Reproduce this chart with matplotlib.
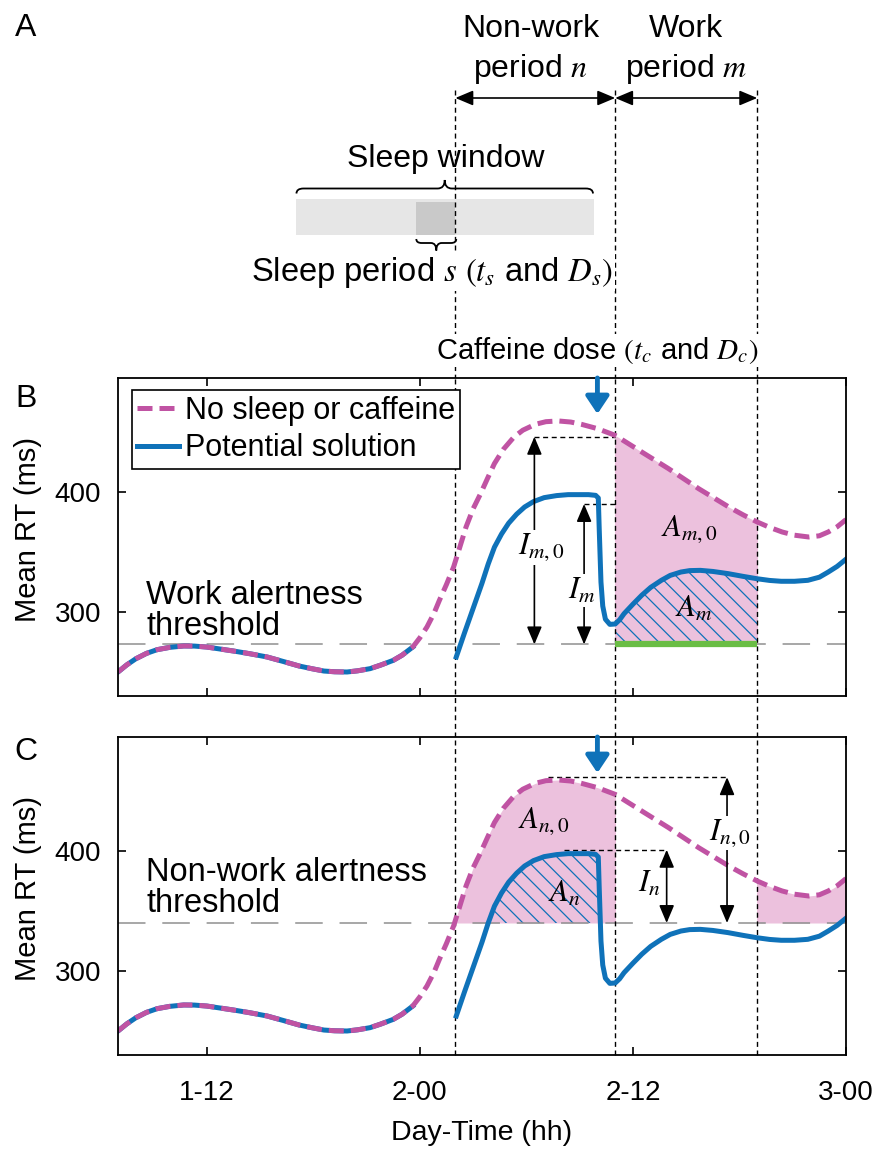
import matplotlib.pyplot as plt
from matplotlib.path import Path
from matplotlib.patches import PathPatch, Rectangle
import matplotlib.transforms as mtransforms

plt.rcParams['font.family'] = ['Liberation Sans', 'DejaVu Sans']
plt.rcParams['mathtext.fontset'] = 'stix'
plt.rcParams['hatch.linewidth'] = 0.9

# time in hours (1-12 = 36 h, 2-00 = 48 h, ...), mean RT in ms
pink_h = [31.0, 31.5, 32.0, 32.6, 33.2, 33.9, 34.7, 35.3, 36.0, 37.5, 38.4, 39.4,
          40.3, 41.2, 41.9, 42.6, 43.2, 43.9, 44.5, 45.2, 45.8, 46.5, 47.0, 47.6,
          48.0, 48.4, 48.8, 49.1, 49.5, 49.9, 50.25, 50.6, 51.0, 51.4, 51.8, 52.2,
          52.7, 53.3, 53.8, 54.5, 55.1, 55.8, 56.5, 57.1, 58.0, 59.0, 60.5, 62.0,
          63.7, 65.4, 66.2, 67.0, 67.7, 68.4, 69.1, 69.9, 70.5, 71.0, 71.5, 72.0]
pink_v = [250, 256, 261, 265.5, 268.6, 270.5, 271.7, 271.6, 270.8, 267.5, 265.3, 262.5,
          258.8, 255, 252.8, 250.8, 250.2, 250, 251, 252.8, 255.8, 259.7, 264, 270.8,
          278.5, 287.5, 299, 309.7, 323, 337.5, 354, 370.8, 386, 398, 411, 423.7,
          435.5, 445.8, 451.5, 456.4, 458.6, 459.2, 458.3, 456.4, 452.8, 447.2, 433.3, 419.5,
          402.8, 387.5, 381, 375, 370.5, 366.7, 364, 362.5, 363.5, 366.7, 371, 377]

# potential solution after waking up
blue_h = [50.05, 50.5, 51.0, 51.5, 51.85, 52.2, 52.6, 53.0, 53.45, 53.9, 54.4, 55.0,
          55.7, 56.35, 57.5, 57.9, 58.05, 58.1, 58.2, 58.3, 58.45, 58.7, 59.0, 59.25,
          59.5, 60.0, 60.5, 61.0, 61.6, 62.1, 62.7, 63.2, 63.8, 64.5, 65.35, 66.2,
          67.0, 67.7, 68.35, 69.1, 69.85, 70.5, 71.0, 71.5, 72.0]
blue_v = [262.5, 282, 303, 324, 340, 354, 365, 374, 381.5, 387.5, 392, 395.3,
          397, 397.8, 397.8, 397.2, 395, 370, 325, 305, 294, 289.7, 290, 293.5,
          298.6, 306.5, 314, 320.5, 326.4, 330.5, 333.3, 334.5, 334.7, 333.8, 332, 329.7,
          327.7, 326.3, 325.6, 325.6, 326.4, 329, 333.3, 338, 344]

sleep_window = (41.0, 57.8)
sleep_period = (47.8, 50.0)
nonwork = (50.0, 59.0)
work = (59.0, 67.0)
caffeine_t = 58.0
thr_work = 273
thr_nonwork = 340

im0_x, im0_top = 54.45, 446
im_x, im_top = 57.25, 390
in0_x, in0_top = 65.3, 461.5
in_x, in_top = 61.9, 401

xticks = [36, 48, 60, 72]
xticklabels = ['1-12', '2-00', '2-12', '3-00']
yticks = [300, 400]

PINK = '#c053a3'
PINK_FILL = '#ecc1dd'
BLUE = '#0f72b9'
GREEN = '#6abd45'
GRAY = '#8f8f8f'

W, H = 874, 1149
fig = plt.figure(figsize=(W / 100, H / 100), dpi=100)


def px_axes(x0, y0, x1, y1):
    return fig.add_axes([x0 / W, 1 - y1 / H, (x1 - x0) / W, (y1 - y0) / H])


ax_a = px_axes(118, 0, 846, 378)
ax_b = px_axes(118, 378, 846, 696)
ax_c = px_axes(118, 737, 846, 1055)

vdash = (0, (3.6, 2.6))
arrow_k = dict(arrowstyle='<|-|>,head_length=0.9,head_width=0.38', color='k',
               lw=1.2, shrinkA=0, shrinkB=0, mutation_scale=12)
white_box = dict(fc='white', ec='none', pad=1)


def brace(ax, x0, x1, y_end, y_flat, y_tip, r):
    xm = (x0 + x1) / 2
    verts = [(x0, y_end), (x0, y_flat), (x0 + r, y_flat),
             (xm - r, y_flat), (xm, y_flat), (xm, y_tip),
             (xm, y_flat), (xm + r, y_flat),
             (x1 - r, y_flat), (x1, y_flat), (x1, y_end)]
    codes = [Path.MOVETO, Path.CURVE3, Path.CURVE3,
             Path.LINETO, Path.CURVE3, Path.CURVE3,
             Path.CURVE3, Path.CURVE3,
             Path.LINETO, Path.CURVE3, Path.CURVE3]
    ax.add_patch(PathPatch(Path(verts, codes), fill=False, lw=1.3, color='k'))


# ---------- panel A (schematic, y in pixels from top) ----------
ax_a.set_xlim(31, 72)
ax_a.set_ylim(378, 0)
ax_a.axis('off')

ax_a.add_patch(Rectangle((sleep_window[0], 199), sleep_window[1] - sleep_window[0], 36,
                         fc='#e6e6e6', ec='none'))
ax_a.add_patch(Rectangle((sleep_period[0], 201.5), sleep_period[1] - sleep_period[0], 33.5,
                         fc='#c9c9c9', ec='none'))
brace(ax_a, sleep_window[0] + 0.05, sleep_window[1] - 0.05, 193.5, 188.5, 180, 0.4)
brace(ax_a, sleep_period[0], sleep_period[1] + 0.05, 239, 243, 250.5, 0.3)

for t in (nonwork[0], work[0], work[1]):
    ax_a.plot([t, t], [90, 378], color='k', lw=1.0, ls=vdash, zorder=1)

ax_a.annotate('', xy=(nonwork[0], 98), xytext=(nonwork[1], 98), arrowprops=arrow_k)
ax_a.annotate('', xy=(work[0], 98), xytext=(work[1], 98), arrowprops=arrow_k)

mid_n = sum(nonwork) / 2 - 0.25
mid_m = sum(work) / 2
ax_a.text(mid_n, 37, 'Non-work', ha='center', va='baseline', fontsize=23)
ax_a.text(mid_n, 77, 'period $n$', ha='center', va='baseline', fontsize=23)
ax_a.text(mid_m, 37, 'Work', ha='center', va='baseline', fontsize=23)
ax_a.text(mid_m, 77, 'period $m$', ha='center', va='baseline', fontsize=23)
ax_a.text(49.45, 167, 'Sleep window', ha='center', va='baseline', fontsize=23)
ax_a.text(48.7, 281, 'Sleep period $s$ $(t_s$ and $D_s)$', ha='center', va='baseline',
          fontsize=23.5, zorder=3, bbox=white_box)
ax_a.text(caffeine_t, 359, 'Caffeine dose $(t_c$ and $D_c)$', ha='center', va='baseline',
          fontsize=21, zorder=3, bbox=white_box)

fig.text(26 / W, 1 - 28 / H, 'A', ha='center', va='center', fontsize=23)
fig.text(26 / W, 1 - 399 / H, 'B', ha='center', va='center', fontsize=23)
fig.text(26 / W, 1 - 752 / H, 'C', ha='center', va='center', fontsize=23)

blue_pre_h = [h for h in pink_h if h <= sleep_period[0]]
blue_pre_v = pink_v[:len(blue_pre_h)]


def draw_curves(ax):
    ax.plot(blue_pre_h, blue_pre_v, color=BLUE, lw=3.6, zorder=2)
    lb, = ax.plot(blue_h, blue_v, color=BLUE, lw=3.6, zorder=2,
                  solid_joinstyle='round')
    lp, = ax.plot(pink_h, pink_v, color=PINK, lw=3.6, ls=(0, (3.0, 1.4)), zorder=2.1)
    return lp, lb


def clipped_fill(ax, h, v, thr, span, **kw):
    coll = ax.fill_between(h, v, thr, where=[x > thr for x in v], interpolate=True,
                           lw=0, **kw)
    coll.set_clip_path(Rectangle((span[0], 0), span[1] - span[0], 1000,
                                 transform=ax.transData))


def style_axes(ax, thr):
    ax.set_xlim(31, 72)
    ax.set_ylim(230, 495)
    ax.set_xticks(xticks)
    ax.set_yticks(yticks)
    ax.tick_params(direction='in', length=6, width=1.2, top=True, right=True,
                   labelsize=20)
    ax.tick_params(axis='x', pad=18)
    ax.tick_params(axis='y', pad=12)
    for s in ax.spines.values():
        s.set_linewidth(1.3)
    ax.axhline(thr, color=GRAY, lw=1.1, ls=(0, (18, 11)), zorder=1.4)
    ax.set_ylabel('Mean RT (ms)', fontsize=21)
    ax.yaxis.set_label_coords(-0.105, 0.525)
    ax.annotate('', xy=(caffeine_t, 465), xytext=(caffeine_t, 495),
                arrowprops=dict(arrowstyle='-|>,head_length=0.75,head_width=0.5',
                                color=BLUE, lw=3.5, shrinkA=0, shrinkB=0,
                                mutation_scale=14), zorder=4)


def vlines(ax, extend_below):
    tr = mtransforms.blended_transform_factory(ax.transData, ax.transAxes)
    for t in (nonwork[0], work[0], work[1]):
        ax.plot([t, t], [extend_below, 1], transform=tr, color='k', lw=1.0,
                ls=vdash, clip_on=False, zorder=1.5)


# ---------- panel B ----------
style_axes(ax_b, thr_work)
ax_b.set_xticklabels([])
vlines(ax_b, -41 / 318)
lp, lb = draw_curves(ax_b)

clipped_fill(ax_b, pink_h, pink_v, thr_work, work, color=PINK_FILL, zorder=1)
clipped_fill(ax_b, blue_h, blue_v, thr_work, work, facecolor='none',
             edgecolor=BLUE, hatch='\\\\', zorder=1.2)
ax_b.plot(list(work), [thr_work, thr_work], color=GREEN, lw=4.5, zorder=1.6,
          solid_capstyle='butt')

ax_b.plot([im0_x, work[0]], [im0_top, im0_top], color='k', lw=1.0, ls=vdash, zorder=1.5)
ax_b.plot([im_x, work[0]], [im_top, im_top], color='k', lw=1.0, ls=vdash, zorder=1.5)
ax_b.annotate('', xy=(im0_x, im0_top), xytext=(im0_x, thr_work), arrowprops=arrow_k)
ax_b.annotate('', xy=(im_x, im_top), xytext=(im_x, thr_work), arrowprops=arrow_k)
ax_b.text(54.85, 354, '$I_{m,0}$', ha='center', va='center', fontsize=22,
          bbox=white_box, zorder=3)
ax_b.text(57.12, 318, '$I_m$', ha='center', va='center', fontsize=22,
          bbox=white_box, zorder=3)
ax_b.text(63.17, 369, '$A_{m,0}$', ha='center', va='center', fontsize=22, zorder=3)
ax_b.text(63.4, 303, '$A_m$', ha='center', va='center', fontsize=22, zorder=3)

ax_b.text(32.6, 281, 'Work alertness\nthreshold', ha='left', va='baseline',
          fontsize=23.5, linespacing=1.0)

leg = ax_b.legend([lp, lb], ['No sleep or caffeine', 'Potential solution'],
                  loc='upper left', bbox_to_anchor=(0.019, 0.962), borderaxespad=0,
                  fontsize=22, handlelength=1.35, handletextpad=0.2,
                  labelspacing=0.25, borderpad=0.18, fancybox=False,
                  edgecolor='k', framealpha=1)
leg.get_frame().set_linewidth(1.2)

# ---------- panel C ----------
style_axes(ax_c, thr_nonwork)
ax_c.set_xticklabels(xticklabels)
ax_c.set_xlabel('Day-Time (hh)', fontsize=20.5, labelpad=10)
vlines(ax_c, 0)
draw_curves(ax_c)

for span in (nonwork, (work[1], 72)):
    clipped_fill(ax_c, pink_h, pink_v, thr_nonwork, span, color=PINK_FILL, zorder=1)
clipped_fill(ax_c, blue_h, blue_v, thr_nonwork, nonwork, facecolor='none',
             edgecolor=BLUE, hatch='\\\\', zorder=1.2)

ax_c.plot([55.2, in0_x], [in0_top, in0_top], color='k', lw=1.0, ls=vdash, zorder=1.5)
ax_c.plot([56.1, in_x], [in_top, in_top], color='k', lw=1.0, ls=vdash, zorder=1.5)
ax_c.annotate('', xy=(in0_x, in0_top), xytext=(in0_x, thr_nonwork), arrowprops=arrow_k)
ax_c.annotate('', xy=(in_x, in_top), xytext=(in_x, thr_nonwork), arrowprops=arrow_k)
ax_c.text(65.47, 415, '$I_{n,0}$', ha='center', va='center', fontsize=22,
          bbox=white_box, zorder=3)
ax_c.text(60.9, 373, '$I_n$', ha='center', va='center', fontsize=22, zorder=3)
ax_c.text(55.0, 425, '$A_{n,0}$', ha='center', va='center', fontsize=22, zorder=3)
ax_c.text(56.1, 364, '$A_n$', ha='center', va='center', fontsize=22, zorder=3)

ax_c.text(32.6, 349, 'Non-work alertness\nthreshold', ha='left', va='baseline',
          fontsize=23.5, linespacing=1.0)

fig.savefig('out.png', dpi=100)
